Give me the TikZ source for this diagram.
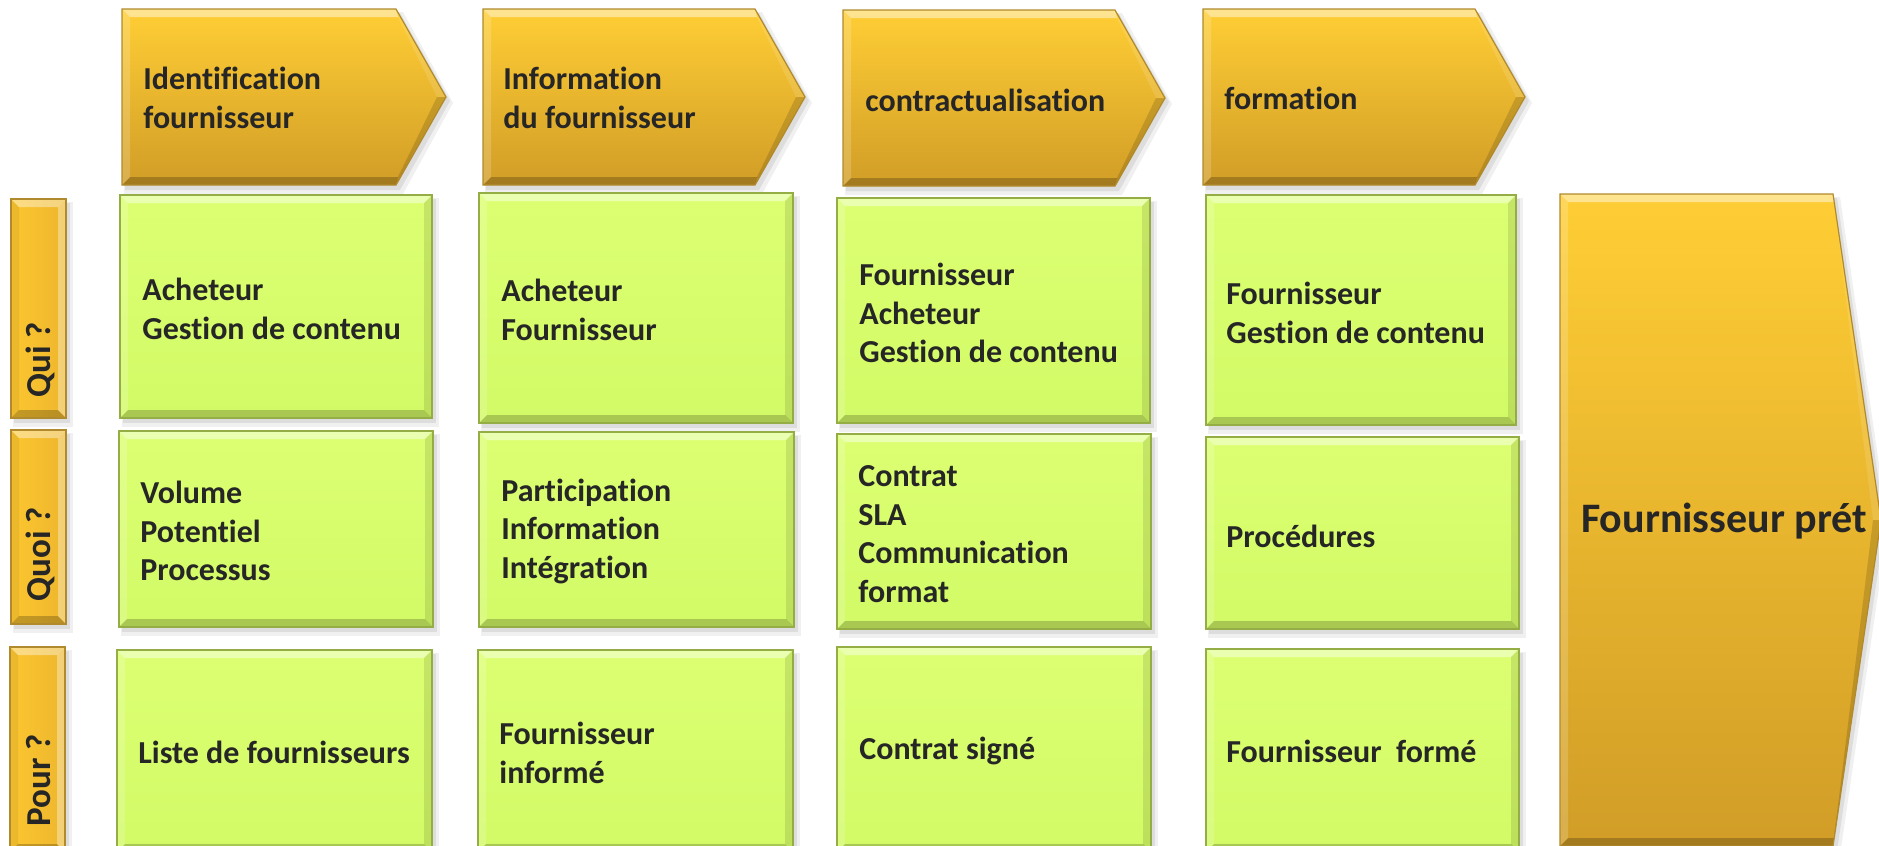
\documentclass[tikz,border=0pt]{standalone}
\usepackage{fontspec}
\setmainfont{Carlito}[Ligatures=NoCommon]
\definecolor{txt}{HTML}{262626}
\definecolor{gA}{HTML}{DCFF72}
\definecolor{gB}{HTML}{D2FA66}
\definecolor{gEd}{HTML}{94AE45}
\definecolor{oA}{HTML}{FFCE35}
\definecolor{oB}{HTML}{D19D27}
\definecolor{oEd}{HTML}{B08A2C}
\definecolor{vA}{HTML}{FCC630}
\definecolor{vB}{HTML}{EDB62E}
\tikzset{
  lbl/.style={font=\bfseries\fontsize{16bp}{19.25bp}\selectfont, text=txt, align=left, inner sep=0pt, anchor=west},
  vlbl/.style={font=\bfseries\fontsize{17.5bp}{20bp}\selectfont, text=txt, inner sep=0pt, anchor=west, rotate=90},
  bigl/.style={font=\bfseries\fontsize{21bp}{25bp}\selectfont, text=txt, inner sep=0pt},
  hi/.style={fill=white,opacity=#1},
  lo/.style={fill=black,opacity=#1}
}
% rectangle with bevel: x1 y1 x2 y2 topcolor bottomcolor edgecolor
\newcommand\bevrect[7]{%
  \fill[black,opacity=0.06] (#1+2,#2+3) rectangle (#3+7,#4+9);
  \fill[black,opacity=0.08] (#1+3,#2+4) rectangle (#3+4,#4+5);
  \shade[top color=#5,bottom color=#6] (#1,#2) rectangle (#3,#4);
  \fill[hi=0.45] (#1,#2) -- (#3,#2) -- (#3-8,#2+8) -- (#1+8,#2+8) -- cycle;
  \fill[hi=0.18] (#1,#2) -- (#1+8,#2+8) -- (#1+8,#4-8) -- (#1,#4) -- cycle;
  \fill[lo=0.10] (#3,#2) -- (#3,#4) -- (#3-8,#4-8) -- (#3-8,#2+8) -- cycle;
  \fill[lo=0.20] (#1,#4) -- (#1+8,#4-8) -- (#3-8,#4-8) -- (#3,#4) -- cycle;
  \draw[#7,line width=0.6bp] (#1,#2) rectangle (#3,#4);
}
% vertical bar
\newcommand\vbar[4]{%
  \fill[black,opacity=0.06] (#1+2,#2+3) rectangle (#3+7,#4+9);
  \fill[black,opacity=0.08] (#1+3,#2+4) rectangle (#3+4,#4+5);
  \shade[left color=vA,right color=vB] (#1,#2) rectangle (#3,#4);
  \fill[hi=0.40] (#1,#2) -- (#3,#2) -- (#3-8,#2+8) -- (#1+8,#2+8) -- cycle;
  \fill[lo=0.06] (#1,#2) -- (#1+8,#2+8) -- (#1+8,#4-8) -- (#1,#4) -- cycle;
  \fill[hi=0.35] (#3,#2) -- (#3,#4) -- (#3-8,#4-8) -- (#3-8,#2+8) -- cycle;
  \fill[lo=0.22] (#1,#4) -- (#1+8,#4-8) -- (#3-8,#4-8) -- (#3,#4) -- cycle;
  \draw[oEd,line width=0.6bp] (#1,#2) rectangle (#3,#4);
}
% arrow: x1 y1 xbody xtip y2 bevel tipoffset cornoffset
\newcommand\bevarrow[8]{%
  \pgfmathsetmacro\ym{(#2+#5)/2}%
  \fill[black,opacity=0.06] (#1+2,#2+3) -- (#3+7,#2+3) -- (#4+7,\ym+6) -- (#3+7,#5+9) -- (#1+2,#5+9) -- cycle;
  \fill[black,opacity=0.08] (#1+3,#2+4) -- (#3+4,#2+4) -- (#4+4,\ym+4) -- (#3+4,#5+5) -- (#1+3,#5+5) -- cycle;
  \shade[top color=oA,bottom color=oB] (#1,#2) -- (#3,#2) -- (#4,\ym) -- (#3,#5) -- (#1,#5) -- cycle;
  \fill[hi=0.45] (#1,#2) -- (#3,#2) -- (#3+#8,#2+#6) -- (#1+#6,#2+#6) -- cycle;
  \fill[hi=0.12] (#3,#2) -- (#4,\ym) -- (#4-#7,\ym) -- (#3+#8,#2+#6) -- cycle;
  \fill[lo=0.14] (#4,\ym) -- (#3,#5) -- (#3+#8,#5-#6) -- (#4-#7,\ym) -- cycle;
  \fill[lo=0.22] (#3,#5) -- (#1,#5) -- (#1+#6,#5-#6) -- (#3+#8,#5-#6) -- cycle;
  \fill[hi=0.18] (#1,#2) -- (#1+#6,#2+#6) -- (#1+#6,#5-#6) -- (#1,#5) -- cycle;
  \draw[oEd,line width=0.6bp] (#1,#2) -- (#3,#2) -- (#4,\ym) -- (#3,#5) -- (#1,#5) -- cycle;
}
\begin{document}
\begin{tikzpicture}[x=0.5bp,y=-0.5bp]
\useasboundingbox (0,0) rectangle (1879,845);
\clip (0,0) rectangle (1879,845);
\fill[white] (0,0) rectangle (1879,845);

% top arrows
\bevarrow{122}{9}{396}{446}{185}{8}{9}{2}
\bevarrow{483}{9}{755}{805}{185}{8}{9}{2}
\bevarrow{843}{10}{1115}{1165}{186}{8}{9}{2}
\bevarrow{1203}{9}{1475}{1525}{185}{8}{9}{2}
\node[lbl] (a1) at (143,98) {Identification\\fournisseur};
\node[lbl] (a2) at (503,98) {Information\\du fournisseur};
\node[lbl] (a3) at (865,100) {contractualisation};
\node[lbl] (a4) at (1224,98) {formation};

% left bars
\vbar{11}{199}{66}{418}
\vbar{11}{430}{66}{624}
\vbar{10}{647}{65}{852}
\node[vlbl] (qui) at (40,398) {Qui ?};
\node[vlbl] (quoi) at (40,602) {Quoi ?};
\node[vlbl] (pour) at (39,827) {Pour ?};

% green boxes
\bevrect{120}{195}{432}{418}{gA}{gB}{gEd}
\bevrect{119}{431}{433}{627}{gA}{gB}{gEd}
\bevrect{117}{650}{432}{852}{gA}{gB}{gEd}
\bevrect{479}{193}{793}{423}{gA}{gB}{gEd}
\bevrect{479}{432}{794}{627}{gA}{gB}{gEd}
\bevrect{478}{650}{793}{852}{gA}{gB}{gEd}
\bevrect{837}{198}{1150}{423}{gA}{gB}{gEd}
\bevrect{837}{434}{1151}{629}{gA}{gB}{gEd}
\bevrect{837}{647}{1151}{852}{gA}{gB}{gEd}
\bevrect{1206}{195}{1516}{425}{gA}{gB}{gEd}
\bevrect{1206}{437}{1519}{629}{gA}{gB}{gEd}
\bevrect{1206}{649}{1519}{852}{gA}{gB}{gEd}

\node[lbl] (b11) at (142,309) {Acheteur\\Gestion de contenu};
\node[lbl] (b21) at (140,531) {Volume\\Potentiel\\Processus};
\node[lbl] (b31) at (138,752) {Liste de fournisseurs};
\node[lbl] (b12) at (501,310) {Acheteur\\Fournisseur};
\node[lbl] (b22) at (501,531) {Participation\\Information\\Intégration};
\node[lbl] (b32) at (499,753) {Fournisseur\\informé};
\node[lbl] (b13) at (859,313) {Fournisseur\\Acheteur\\Gestion de contenu};
\node[lbl] (b23) at (858,534) {Contrat\\SLA\\Communication\\format};
\node[lbl] (b33) at (859,751) {Contrat signé};
\node[lbl] (b14) at (1226,313) {Fournisseur\\Gestion de contenu};
\node[lbl] (b24) at (1226,536) {Procédures};
\node[lbl] (b34) at (1226,751) {Fournisseur\ \ formé};

% big arrow
\bevarrow{1560}{194}{1833}{1881}{846}{8}{8}{1}
\node[bigl] (pret) at (1724,521) {Fournisseur prét};
\end{tikzpicture}
\end{document}
